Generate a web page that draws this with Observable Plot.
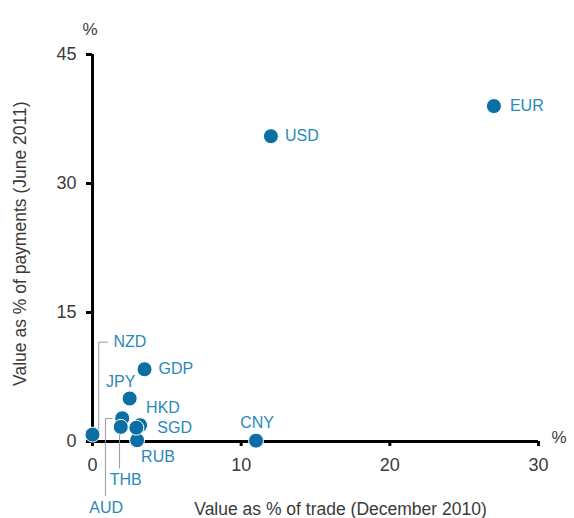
<!DOCTYPE html>
<html>
<head>
<meta charset="utf-8">
<script src="https://cdn.jsdelivr.net/npm/d3@7"></script>
<script src="https://cdn.jsdelivr.net/npm/@observablehq/plot@0.6"></script>
<style>
  html, body { margin: 0; padding: 0; background: #fff; }
  svg { display: block; }
</style>
</head>
<body>
<div id="chart"></div>
<script>
// ---- data ----
const currencies = ["EUR", "USD", "CNY", "GDP", "JPY", "NZD", "AUD", "THB", "HKD", "RUB", "SGD"];
const tradeShare = [27, 12, 11, 3.5, 2.5, 0, 2.0, 1.9, 3.2, 3.0, 2.95];      // % of trade (Dec 2010)
const paymentShare = [39, 35.5, 0.1, 8.4, 5.0, 0.8, 2.7, 1.7, 1.9, 0.15, 1.6]; // % of payments (June 2011)
const xTicks = [0, 10, 20, 30];
const yTicks = [0, 15, 30, 45];

// leader lines for the crowded labels (data units)
const leaderNZD = [[0.42, 0.7], [0.42, 11.55], [1.0, 11.55]];
const leaderAUD = [[1.3, 2.67], [0.87, 2.67], [0.87, -6.3]];
const leaderTHB = [[1.82, 1.3], [1.82, -3.1]];

// ---- label placement (pixel offsets) ----
const placement = {
  EUR: {dx: 16, dy: 0, anchor: "start"},
  USD: {dx: 14, dy: 0, anchor: "start"},
  CNY: {dx: 1, dy: -18, anchor: "middle"},
  GDP: {dx: 14, dy: 0, anchor: "start"},
  JPY: {dx: -9, dy: -17, anchor: "middle"},
  NZD: {dx: 21, dy: -93, anchor: "start"},
  AUD: {dx: -16, dy: 90, anchor: "middle"},
  THB: {dx: 5, dy: 53, anchor: "middle"},
  HKD: {dx: 6, dy: -17, anchor: "start"},
  RUB: {dx: 4, dy: 17, anchor: "start"},
  SGD: {dx: 21, dy: 0, anchor: "start"}
};

const data = currencies.map((c, i) => ({name: c, x: tradeShare[i], y: paymentShare[i]}));
const leaders = [
  ...leaderNZD.map(([x, y]) => ({k: "NZD", x, y})),
  ...leaderAUD.map(([x, y]) => ({k: "AUD", x, y})),
  ...leaderTHB.map(([x, y]) => ({k: "THB", x, y}))
];

const dotColor = "#0b6fa4";
const labelColor = "#2a88ba";
const textColor = "#3a3a3a";
const font = "'Liberation Sans', Arial, sans-serif";

const labelMarks = data.map(d => {
  const p = placement[d.name];
  return Plot.text([d], {
    x: "x", y: "y", text: "name",
    dx: p.dx, dy: p.dy, textAnchor: p.anchor,
    fill: labelColor, fontSize: 16
  });
});

const chart = Plot.plot({
  width: 574,
  height: 518,
  marginLeft: 92,
  marginRight: 36,
  marginTop: 54,
  marginBottom: 77,
  style: {fontFamily: font, background: "#fff", overflow: "visible"},
  x: {domain: [0, 30]},
  y: {domain: [0, 45]},
  marks: [
    Plot.axisX({ticks: xTicks, tickSize: 5, tickPadding: 12, stroke: "#000", strokeWidth: 3,
      fill: textColor, fontSize: 18, label: null}),
    Plot.axisY({ticks: yTicks, tickSize: 6, tickPadding: 10, stroke: "#000", strokeWidth: 3,
      fill: textColor, fontSize: 18, label: null}),
    Plot.ruleY([0], {stroke: "#000", strokeWidth: 3}),
    Plot.ruleX([0], {stroke: "#000", strokeWidth: 3}),
    Plot.line(leaders, {x: "x", y: "y", z: "k", stroke: "#9a9a9a", strokeWidth: 1}),
    Plot.dot(data, {x: "x", y: "y", r: 7.5, fill: dotColor, stroke: "#fff", strokeWidth: 1}),
    ...labelMarks,
    // unit markers & axis titles
    Plot.text(["%"], {frameAnchor: "top-left", dx: -10, dy: -32, fill: textColor, fontSize: 17}),
    Plot.text(["%"], {frameAnchor: "bottom-right", dx: 28, dy: 1, fill: textColor, fontSize: 17}),
    Plot.text(["Value as % of trade (December 2010)"], {frameAnchor: "bottom", dx: 25, dy: 73,
      fill: textColor, fontSize: 17.5}),
    Plot.text([{x: -4.85, y: 23, t: "Value as % of payments (June 2011)"}], {x: "x", y: "y", text: "t", rotate: -90,
      fill: textColor, fontSize: 17.5})
  ]
});
document.getElementById("chart").appendChild(chart);
</script>
</body>
</html>
